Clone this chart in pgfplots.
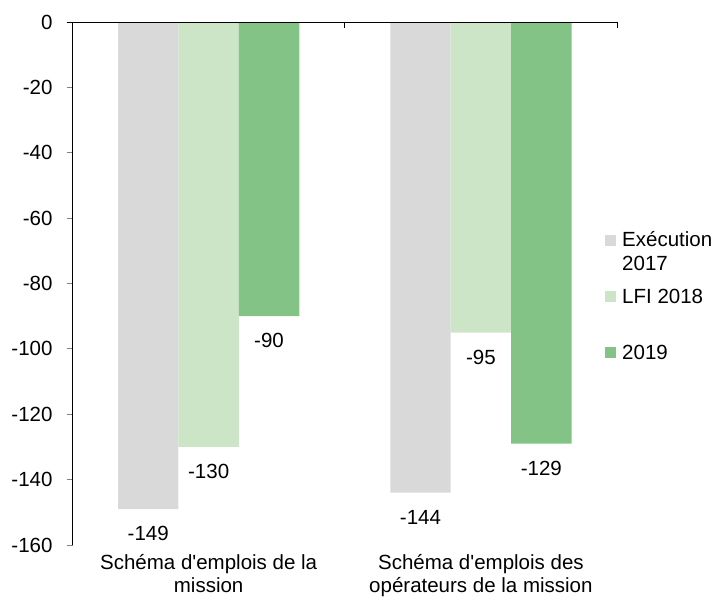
\documentclass[border=0pt]{standalone}
\usepackage{fontspec}
\setmainfont{Liberation Sans}
\usepackage{pgfplots}
\pgfplotsset{compat=1.18}
\definecolor{cexec}{HTML}{D9D9D9}
\definecolor{clfi}{HTML}{CCE5C6}
\definecolor{c2019}{HTML}{83C385}
\newcommand{\lbl}{\fontsize{20.5}{23.3}\selectfont}

\begin{document}
\lbl
\begin{tikzpicture}
\begin{axis}[
  scale only axis, width=544.5pt, height=523pt,
  xmin=-0.5, xmax=1.5, ymin=-160, ymax=0,
  ytick distance=20,
  xtick={0,1},
  xticklabels={{\strut Schéma d\textquotesingle emplois de la\\\strut mission},
               {\strut Schéma d\textquotesingle emplois des\\\strut opérateurs de la mission}},
  axis x line*=bottom, axis y line*=left,
  x axis line style={draw=none},
  major x tick style={draw=none},
  y axis line style={line width=1pt},
  major y tick style={line width=1pt},
  tick align=outside, major tick length=6pt,
  ticklabel style={font=\lbl},
  xticklabel style={align=center, inner ysep=2pt},
  yticklabel style={xshift=-7pt},
  /pgf/number format/assume math mode=true,
  clip=false,
  nodes near coords align=vertical,
  every node near coord/.append style={font=\lbl, black, inner ysep=17pt},
  legend style={at={(rel axis cs:0.978,0.6015)}, anchor=north west,
    draw=none, fill=none, inner sep=0pt, row sep=13.5pt, column sep=6pt,
    nodes={inner sep=0pt, align=left, font=\lbl}},
  legend cell align=left,
  legend image code/.code={\fill[#1] (0pt,6pt) rectangle (11pt,17pt);},
]
\addplot[ybar, bar width=60.4pt, bar shift=-60.4pt, fill=cexec, draw=none, nodes near coords,
  every node near coord/.append style={xshift=-60.4pt}]
  coordinates {(0,-149) (1,-144)};
\addlegendentry{\strut Exécution\\\strut 2017}
\addplot[ybar, bar width=60.4pt, bar shift=0pt, fill=clfi, draw=none, nodes near coords]
  coordinates {(0,-130) (1,-95)};
\addlegendentry{\strut LFI 2018\\\strut}
\addplot[ybar, bar width=60.4pt, bar shift=60.4pt, fill=c2019, draw=none, nodes near coords,
  every node near coord/.append style={xshift=60.4pt}]
  coordinates {(0,-90) (1,-129)};
\addlegendentry{\strut 2019\\\strut}
\draw[line width=1pt] ([xshift=-6pt]rel axis cs:0,1) -- (rel axis cs:1,1);
\draw[line width=1pt] (axis cs:0.5,0) -- ([yshift=-6pt]axis cs:0.5,0);
\draw[line width=1pt] (axis cs:1.5,0) -- ([yshift=-6pt]axis cs:1.5,0);
\coordinate (bbl) at (rel axis cs:-0.1332,-0.0994);
\coordinate (btr) at (rel axis cs:1.1781,1.0421);
\end{axis}
\pgfresetboundingbox
\path[use as bounding box] (bbl) rectangle (btr);
\end{tikzpicture}
\end{document}
